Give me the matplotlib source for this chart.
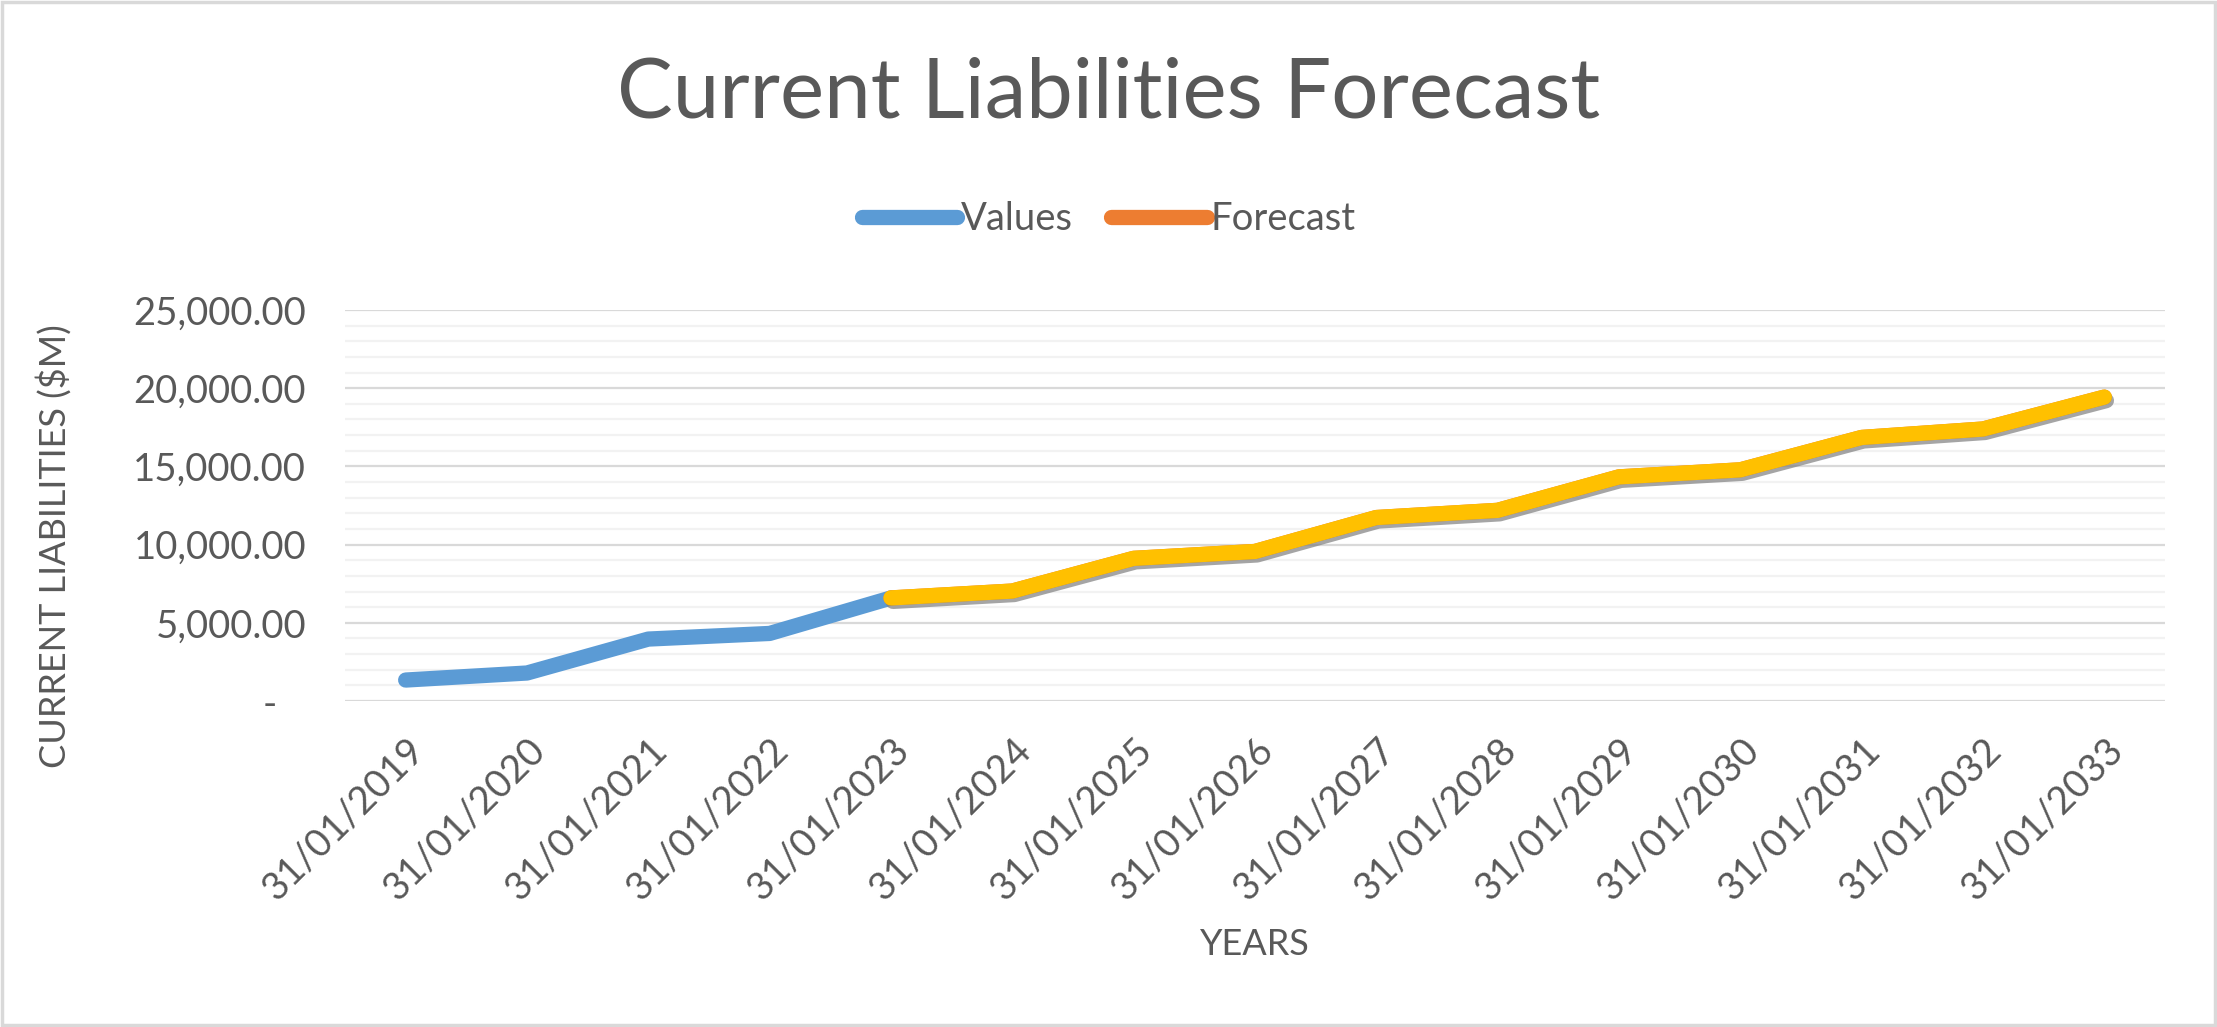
import matplotlib.pyplot as plt
import matplotlib.patheffects as pe
from matplotlib.patches import Rectangle

dates = ['31/01/2019', '31/01/2020', '31/01/2021', '31/01/2022', '31/01/2023',
         '31/01/2024', '31/01/2025', '31/01/2026', '31/01/2027', '31/01/2028',
         '31/01/2029', '31/01/2030', '31/01/2031', '31/01/2032', '31/01/2033']
values = [1340, 1790, 3960, 4320, 6590]
forecast = [6590, 7030, 9120, 9560, 11730, 12190, 14330, 14780, 16850, 17390, 19430]
ytick_vals = [0, 5000, 10000, 15000, 20000, 25000]
ytick_labels = ['-   ', '5,000.00', '10,000.00', '15,000.00', '20,000.00', '25,000.00']

txt = '#595959'
plt.rcParams['font.family'] = ['Lato', 'DejaVu Sans']

fig = plt.figure(figsize=(22.17, 10.27), dpi=100)
ax = fig.add_axes([345 / 2217, 1 - 701 / 1027, 1820 / 2217, 391 / 1027])

n = len(dates)
xv = list(range(len(values)))
xf = list(range(len(values) - 1, n))

# grid: minor every 1000, major every 5000
for y in range(0, 25001, 1000):
    if y % 5000 == 0:
        ax.axhline(y, color='#D9D9D9', lw=1.6, zorder=1)
    else:
        ax.axhline(y, color='#F2F2F2', lw=1.6, zorder=0)

lw = 11
ax.plot(xv, values, color='#5B9BD5', lw=lw, solid_capstyle='round', zorder=3, label='Values')
ax.plot(xf, forecast, color='#ED7D31', lw=lw, solid_capstyle='round', zorder=3, label='Forecast')
ax.plot(xf, forecast, color='#FFC000', lw=lw, solid_capstyle='round', zorder=4,
        path_effects=[pe.SimpleLineShadow(offset=(1.5, -2.5), shadow_color='#7F7F7F', alpha=0.7),
                      pe.Normal()])

ax.set_xlim(-0.5, n - 0.5)
ax.set_ylim(0, 25000)
ax.set_yticks(ytick_vals)
ax.set_yticklabels(ytick_labels)
ax.set_xticks(range(n))
ax.set_xticklabels(dates, rotation=45, ha='right', rotation_mode='anchor')
ax.tick_params(axis='both', length=0, labelsize=27.5, colors=txt)
ax.tick_params(axis='y', pad=28)
ax.tick_params(axis='x', pad=22)
for s in ax.spines.values():
    s.set_visible(False)

ax.set_ylabel('CURRENT LIABILITIES ($M)', fontsize=26, color=txt)
ax.yaxis.set_label_coords(-0.15, 0.395)
ax.set_xlabel('YEARS', fontsize=26, color=txt)
ax.xaxis.set_label_coords(0.5, -0.58)

fig.text(0.5, 1 - 94 / 1027, 'Current Liabilities Forecast', ha='center', va='center',
         fontsize=60, color=txt)

leg = fig.legend(handles=ax.get_lines()[-3:-1], loc='center', bbox_to_anchor=(0.5, 1 - 219 / 1027),
                 ncol=2, frameon=False, fontsize=27.5, handlelength=2.5, handletextpad=0.1,
                 columnspacing=1.0)
for t in leg.get_texts():
    t.set_color(txt)

fig.patches.append(Rectangle((0.001, 0.002), 0.998, 0.996, transform=fig.transFigure,
                             fill=False, edgecolor='#D9D9D9', lw=2.5))

fig.savefig('out.png', dpi=100)
